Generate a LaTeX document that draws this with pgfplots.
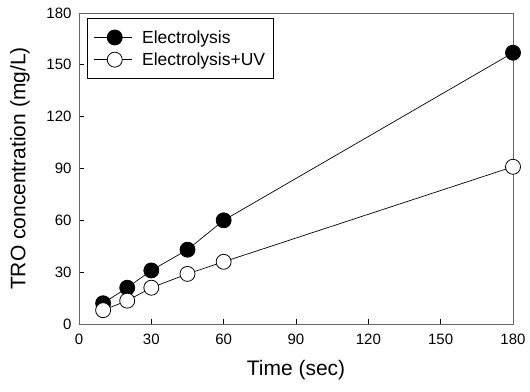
\documentclass[border=0pt]{standalone}
\usepackage{fontspec}
\setmainfont{Liberation Sans}
\usepackage{pgfplots}
\pgfplotsset{compat=1.18}

\begin{document}
\begin{tikzpicture}
\begin{axis}[
  scale only axis,
  width=434pt, height=311pt,
  xmin=0, xmax=180, ymin=0, ymax=180,
  xtick={0,30,...,180}, ytick={0,30,...,180},
  tick align=inside, major tick length=5pt,
  xtick pos=left, ytick pos=left,
  axis line style={black!60, line width=0.8pt},
  tick style={black, line width=0.8pt},
  /pgf/number format/assume math mode=true,
  tick label style={font=\fontsize{15}{15}\selectfont},
  xticklabel style={yshift=-6pt},
  yticklabel style={xshift=-4pt},
  xlabel={Time (sec)},
  ylabel={TRO concentration (mg/L)},
  label style={font=\fontsize{21}{21}\selectfont},
  xlabel style={at={([yshift=-46pt]axis description cs:0.5,0)}, anchor=center},
  ylabel style={at={([xshift=-59pt]axis description cs:0,0.5)}, anchor=center},
  legend style={
    at={([xshift=8pt,yshift=-5pt]axis description cs:0,1)}, anchor=north west,
    draw=black, line width=0.8pt,
    font=\fontsize{17.5}{17.5}\selectfont,
    inner xsep=6pt, inner ysep=10pt,
    row sep=4pt,
    cells={anchor=west},
    /tikz/every odd column/.append style={column sep=8pt},
  },
  legend image code/.code={
    \draw[mark repeat=2, mark phase=2] plot coordinates {(0pt,0pt) (21pt,0pt) (38pt,0pt)};
  },
]
\addplot[black, line width=0.7pt, mark=*, mark size=7.5pt,
  mark options={fill=black, line width=0.8pt}]
  coordinates {(10,12) (20,21) (30,31) (45,43) (60,60) (180,157)};
\addlegendentry{Electrolysis}
\addplot[black, line width=0.7pt, mark=*, mark size=7.5pt,
  mark options={fill=white, line width=0.8pt}]
  coordinates {(10,8) (20,13.5) (30,21) (45,29) (60,36) (180,91)};
\addlegendentry{Electrolysis+UV}
\coordinate (sw) at (rel axis cs:0,0);
\coordinate (ne) at (rel axis cs:1,1);
\end{axis}
\pgfresetboundingbox
\path ([shift={(-79pt,-68pt)}]sw) rectangle ([shift={(17pt,13pt)}]ne);
\end{tikzpicture}
\end{document}
